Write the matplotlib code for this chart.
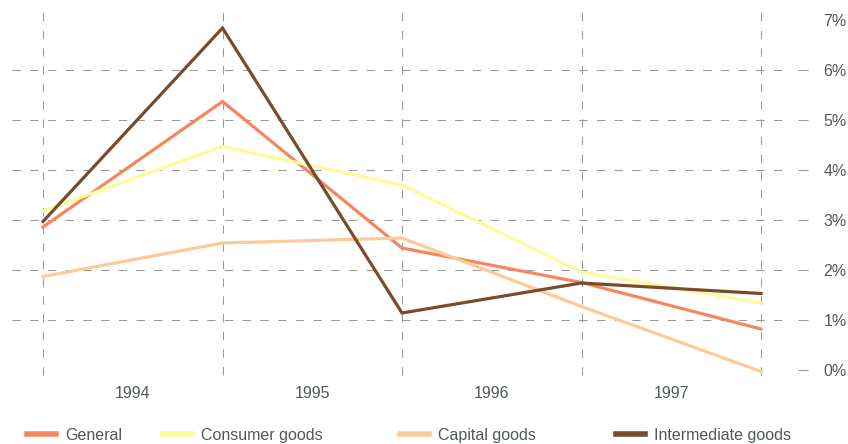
import matplotlib
matplotlib.use("Agg")
import matplotlib.pyplot as plt

years = ["1994", "1995", "1996", "1997"]
general = [2.86, 5.37, 2.44, 1.75, 0.82]
consumer = [3.18, 4.47, 3.70, 1.96, 1.34]
capital = [1.87, 2.54, 2.64, 1.27, -0.03]
intermediate = [2.97, 6.84, 1.14, 1.74, 1.53]
pct_labels = ["0%", "1%", "2%", "3%", "4%", "5%", "6%", "7%"]

series = [
    ("General", general, "#f4875f"),
    ("Consumer goods", consumer, "#fffa9c"),
    ("Capital goods", capital, "#fbcb98"),
    ("Intermediate goods", intermediate, "#7a4b2a"),
]

W, H = 848, 444
plt.rcParams["font.family"] = ["Liberation Sans", "DejaVu Sans"]
txt_color = "#4f5a50"
grid_color = "#9a9a94"
fs = 11.5

fig = plt.figure(figsize=(W / 100, H / 100), dpi=100)
# axes from px 12..808 horizontally, 10..378 vertically
ax = fig.add_axes([12 / W, 1 - 378 / H, (808 - 12) / W, (378 - 10) / H])

px_per_x = (761 - 43) / 4
ax.set_xlim(-(43 - 12) / px_per_x, (808 - 43) / px_per_x)
ax.set_ylim(-(378 - 370) / 50, 7 + (20 - 10) / 50)

x_grid_end = (783 - 43) / px_per_x
for v in range(1, 7):
    ax.hlines(v, ax.get_xlim()[0], x_grid_end, color=grid_color, lw=0.75,
              linestyle=(0, (8, 9)), zorder=1)
xs = list(range(len(general)))
ax.vlines(xs, -0.1, 7.16, color=grid_color, lw=0.75,
          linestyle=(0, (8, 9)), zorder=1)

for name, vals, col in series:
    ax.plot(xs, vals, color=col, lw=2.3, label=name, zorder=3,
            solid_joinstyle="miter")

for s in ax.spines.values():
    s.set_visible(False)

ax.set_xticks([i + 0.5 for i in range(len(years))])
ax.set_xticklabels(years)
ax.tick_params(axis="x", length=0, pad=6, labelsize=fs, labelcolor=txt_color)

ax.yaxis.tick_right()
ax.set_yticks(range(len(pct_labels)))
ax.set_yticklabels(pct_labels)
ax.tick_params(axis="y", direction="in", length=7.5, width=0.75,
               color=grid_color, pad=11, labelsize=fs, labelcolor=txt_color)
ax.yaxis.get_major_ticks()[-1].tick2line.set_visible(False)
for t in ax.get_yticklabels():
    t.set_horizontalalignment("left")

# legend entries placed individually to match spacing
handles, labels = ax.get_legend_handles_labels()
leg_x = [27, 163, 400, 616]
for h, l, x0 in zip(handles, labels, leg_x):
    leg = fig.legend([h], [l], loc="center left",
                     bbox_to_anchor=(x0 / W, 1 - 435 / H),
                     frameon=False, borderpad=0, borderaxespad=0,
                     handlelength=1.8, handletextpad=0.6, fontsize=fs,
                     labelcolor=txt_color)
    leg.get_lines()[0].set_linewidth(4)

fig.savefig("out.png", dpi=100)
